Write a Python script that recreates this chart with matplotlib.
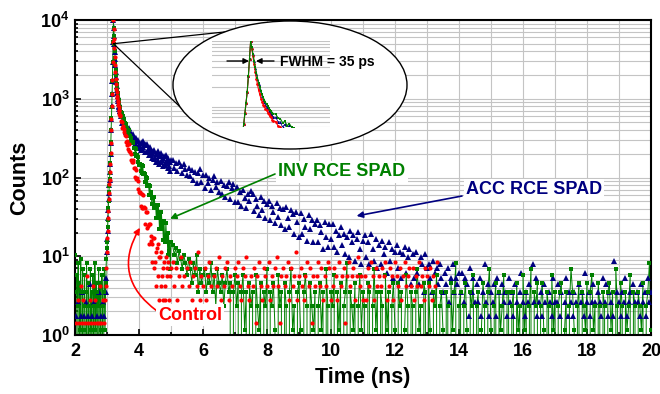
import numpy as np
import matplotlib
matplotlib.use("Agg")
import matplotlib.pyplot as plt
from matplotlib.patches import Ellipse
from matplotlib.ticker import MultipleLocator, LogLocator, NullFormatter

plt.rcParams['font.family'] = ['Liberation Sans', 'DejaVu Sans']
plt.rcParams['font.weight'] = 'bold'
plt.rcParams['mathtext.fontset'] = 'custom'
plt.rcParams['mathtext.rm'] = 'Liberation Sans:bold'
plt.rcParams['mathtext.it'] = 'Liberation Sans:bold'
plt.rcParams['mathtext.bf'] = 'Liberation Sans:bold'

# time bins (ns): coarse before the pulse, fine over the peak, coarser in the tail
t_pre = np.round(2.00 + 0.02 * np.arange(50), 3)
t_peak = np.round(3.00 + 0.01 * np.arange(41), 3)
t_decay = np.round(3.42 + 0.02 * np.arange(80), 3)
t_tail = np.round(5.05 + 0.05 * np.arange(300), 3)
time_ns = np.concatenate([t_pre, t_peak, t_decay, t_tail])

# factor that normalises each histogram to a 1e4 peak
norm_ctrl = 1.41
norm_inv = 1.16
norm_acc = 0.88

# ---- Control (red) ----
ctrl_pre = [0,1,0,0,2,0,1,0,0,3, 0,1,0,2,0,0,1,0,4,0, 1,0,0,2,0,1,0,0,3,1,
            0,0,2,0,1,0,0,1,0,3, 0,1,0,0,2,1,0,2,3,5]
ctrl_peak = [8,12,15,22,27,38,45,58,66,83,
             104,144,197,287,394,571,812,1210,2051,3765,7092,
             5384,4120,3115,2418,1909,1566,1270,1104,951,856,
             774,728,669,636,584,557,513,494,456,437]
ctrl_decay = [428,367,359,302,324,270,295,248,242,199, 183,204,165,188,153,151,120,140,111,113,
              120,94,95,72,89,68,69,50,64,46, 45,47,31,44,29,42,29,30,18,29,
              26,16,26,17,18,10,18,11,13,6, 10,12,5,12,6,8,3,9,4,10,
              7,2,7,3,8,4,5,2,6,3, 2,7,4,5,1,6,2,4,0,5]
ctrl_tail = [6,3,5,2,4,7,3,4,1,5, 3,6,2,4,5,3,8,2,4,3, 5,2,4,6,3,1,4,5,3,7,
             2,4,3,5,6,2,4,3,0,5, 4,6,3,2,5,4,7,3,2,4, 3,5,1,4,6,3,2,5,4,3,
             6,2,4,3,5,7,3,1,4,5, 3,4,6,2,5,3,4,8,2,4, 5,3,2,4,6,3,5,1,4,3,
             4,6,3,5,2,4,3,6,5,2, 3,5,4,2,6,3,4,5,1,4, 6,3,4,5,2,4,7,3,4,2,
             4,2,5,3,6,4,2,5,3,4, 3,5,4,6,2,3,5,4,2,6, 4,3,5,2,4,6,3,4,5,3,
             5,2,4,3,6,3,4,2,5,4, 3,5,2,4,3,6]

# ---- INV RCE SPAD (green) ----
inv_pre = [9,3,0,5,2,7,0,4,1,8, 0,3,6,0,2,5,1,0,7,3, 0,4,2,0,6,1,3,0,5,2,
           0,7,1,4,0,3,2,6,0,4, 1,0,5,2,0,3,6,1,4,8]
inv_peak = [11,13,20,25,35,44,57,68,83,98,
            131,170,243,342,486,687,995,1461,2506,4562,8621,
            6890,5440,4302,3455,2838,2377,1978,1712,1494,1341,
            1201,1108,1012,953,883,840,788,755,711,685]
inv_decay = [673,590,576,502,524,453,483,425,417,361, 340,367,314,347,297,294,250,275,233,236,
             245,206,206,171,196,163,166,134,157,126, 125,128,103,123,98,119,95,98,76,95,
             88,67,86,67,69,52,68,52,56,40, 48,49,35,49,35,39,26,38,26,39,
             30,19,31,19,31,21,23,14,24,15, 13,23,14,16,9,17,10,13,6,13]
inv_tail = [12,9,11,7,10,8,6,9,7,5, 8,6,4,7,5,9,3,6,4,5, 6,3,5,4,7,3,5,2,6,4,
            3,5,2,4,6,3,4,0,3,5, 2,4,0,3,5,1,3,0,4,2, 3,0,5,2,1,4,0,3,2,6,
            0,3,2,4,1,0,5,2,3,0, 4,2,0,3,6,1,2,0,3,4, 1,0,3,5,2,0,4,2,1,3,
            0,2,4,1,3,0,6,2,0,3, 2,5,0,3,1,4,0,2,3,7, 0,3,2,1,4,0,2,5,1,3,
            2,0,4,3,0,2,6,1,3,0, 3,2,0,5,1,3,0,2,4,1, 0,4,2,3,0,1,5,2,0,3,
            2,0,3,6,1,2,0,4,3,0, 4,1,0,3,2,5,0,2,3,1, 0,3,2,0,4,1,3,7,0,2,
            3,0,2,4,1,0,3,2,5,0, 2,3,0,1,4,2,0,3,6,1, 0,2,4,0,3,1,2,5,0,3,
            3,0,2,3,0,4,1,2,0,5, 1,3,0,2,6,0,3,2,4,0, 2,4,1,0,3,2,0,5,1,3,
            0,2,3,4,0,1,3,0,2,6, 3,1,0,2,4,0,3,2,1,4, 0,3,5,1,2,0,4,2,0,3,
            2,0,3,4,1,3,0,6,2,0, 4,2,0,3,1,2,5,0,3,2, 0,3,2,1,4,0,2,3,7,1]

# ---- ACC RCE SPAD (navy) ----
acc_pre = [1,0,2,0,0,3,1,0,0,2, 0,4,0,1,2,0,0,3,0,1, 0,2,0,0,5,1,0,2,0,0,
           3,0,1,0,2,0,0,4,1,0, 2,0,0,3,1,0,2,0,4,6]
acc_peak = [13,19,24,35,44,60,73,92,106,133,
            168,229,315,458,633,912,1303,1937,3290,6029,11364,
            8970,7052,5560,4440,3630,3018,2494,2140,1858,1653,
            1472,1345,1222,1140,1052,993,927,885,830,799]
acc_decay = [801,679,678,566,626,527,605,510,515,432, 412,479,401,478,403,416,349,419,354,374,
             407,344,357,299,365,307,328,273,337,278, 287,308,254,317,263,332,278,293,241,305,
             292,241,306,255,269,218,279,229,250,200, 230,244,196,254,208,225,181,235,187,249,
             212,170,222,177,234,189,203,161,214,173, 163,217,175,189,150,201,160,178,139,189]
acc_tail = [190,150,172,139,181,160,131,170,145,124, 152,118,141,105,133,98,128,147,100,121,
            84,124,96,112,78,107,120,85,101,74, 104,70,92,65,88,101,60,83,94,56,
            86,55,75,50,80,63,47,71,58,76, 70,43,61,50,38,65,44,57,35,52,
            58,33,49,41,30,54,36,47,28,45, 25,48,35,27,44,39,22,42,31,20,
            40,22,34,27,18,38,25,33,17,29, 33,17,28,23,14,31,20,15,29,19,
            29,15,24,13,21,27,16,22,12,20, 11,24,17,21,10,19,23,14,9,18,
            21,11,17,9,22,14,10,19,8,16, 9,18,12,15,7,17,10,14,6,13,
            16,8,13,6,12,15,7,11,14,5, 12,6,13,7,5,11,9,4,12,8,
            9,6,4,10,7,8,5,9,6,4, 7,5,8,3,6,9,4,6,5,7,
            4,7,3,6,5,2,8,4,6,3, 5,3,6,2,4,9,3,5,2,4,
            3,5,2,6,4,1,5,3,4,2, 6,3,4,2,5,3,1,4,7,3,
            2,4,3,5,1,9,3,6,2,3, 4,2,5,3,0,4,3,2,6,3,
            3,5,2,4,1,3,6,2,4,3, 2,4,3,1,5,3,4,2,7,3,
            4,2,3,5,3,1,4,3,2,6, 3,5,2,4,3,2,10,1,4,3,
            2,4,3,6,2,3,4,1,5,3, 4,3,2,5,3,4,2,6,3,4]

ctrl = np.array(ctrl_pre + ctrl_peak + ctrl_decay + ctrl_tail) * norm_ctrl
inv = np.array(inv_pre + inv_peak + inv_decay + inv_tail) * norm_inv
acc = np.array(acc_pre + acc_peak + acc_decay + acc_tail) * norm_acc
t_ctrl = time_ns[:len(ctrl)]
t_inv = time_ns[:len(inv)]
t_acc = time_ns[:len(acc)]

RED = '#ff0000'
GREEN = '#008000'
NAVY = '#000080'

fig = plt.figure(figsize=(6.6, 3.94), dpi=100)
ax = fig.add_axes([75/660, 59/394, 576/660, 315/394])
ax.set_yscale('log')

ax.plot(t_inv, inv, color=GREEN, lw=0.7, zorder=2)
ax.plot(t_acc, acc, ls='none', marker='^', ms=3.8, color=NAVY, mew=0, zorder=3)
ax.plot(t_inv, inv, ls='none', marker='s', ms=3.0, color=GREEN, mew=0, zorder=4)
ax.plot(t_ctrl, ctrl, ls='none', marker='o', ms=3.0, color=RED, mew=0, zorder=5)

ax.set_xlim(2, 20)
ax.set_ylim(1, 1e4)
ax.xaxis.set_major_locator(MultipleLocator(2))
ax.xaxis.set_minor_locator(MultipleLocator(1))
ax.yaxis.set_minor_locator(LogLocator(base=10, subs=np.arange(2, 10)))
ax.yaxis.set_minor_formatter(NullFormatter())
ax.set_yticks([1, 10, 100, 1000, 10000])
ax.set_yticklabels([r'$10^{%d}$' % e for e in range(5)])
ax.grid(True, which='both', color='#c4c4c4', lw=0.8, zorder=0)
ax.set_axisbelow(True)
ax.tick_params(which='both', direction='in', top=False, right=False, width=1.2)
ax.tick_params(which='major', length=4, labelsize=13, pad=6)
ax.tick_params(which='minor', length=2.5)
ax.tick_params(axis='y', which='major', pad=4)
for lab in ax.get_xticklabels():
    lab.set_fontweight('bold')
for sp in ax.spines.values():
    sp.set_linewidth(1.5)

ax.set_xlabel('Time (ns)', fontsize=15.5, fontweight='bold')
ax.set_ylabel('Counts', fontsize=15.5, fontweight='bold')
ax.xaxis.set_label_coords(0.5, -0.1)
ax.yaxis.set_label_coords(-0.078, 0.5)

# zoom ellipse and the two guide lines from the peak
def afrac(px, py):
    return ((px - 75) / 576, (335 - py) / 315)

for end in [afrac(300, 24), afrac(195, 121)]:
    ax.annotate('', xy=(3.2, 5000), xycoords='data', xytext=end, textcoords='axes fraction',
                arrowprops=dict(arrowstyle='-', color='black', lw=0.9, shrinkA=0, shrinkB=0),
                zorder=6)
ell = Ellipse(afrac(290, 85), 234 / 576, 128 / 315, transform=ax.transAxes,
              facecolor='white', edgecolor='black', lw=1.0, zorder=7)
ax.add_patch(ell)

# labels with arrows
txt_kw = dict(transform=ax.transAxes, ha='center', va='center', fontsize=13, fontweight='bold',
              zorder=9, bbox=dict(facecolor='white', edgecolor='none', pad=1.5))
ax.text(*afrac(342, 172), 'INV RCE SPAD', color=GREEN, **txt_kw)
ax.text(*afrac(534, 190), 'ACC RCE SPAD', color=NAVY, **txt_kw)
ax.text(*afrac(190, 315), 'Control', color=RED, **txt_kw)

ax.annotate('', xy=(4.97, 30), xycoords='data', xytext=afrac(275, 174), textcoords='axes fraction',
            arrowprops=dict(arrowstyle='-|>', color=GREEN, lw=1.2, mutation_scale=9,
                            shrinkA=0, shrinkB=0), zorder=8)
ax.annotate('', xy=(10.8, 32.5), xycoords='data', xytext=afrac(462, 196), textcoords='axes fraction',
            arrowprops=dict(arrowstyle='-|>', color=NAVY, lw=1.2, mutation_scale=9,
                            shrinkA=0, shrinkB=0), zorder=8)
ax.annotate('', xy=(4.03, 23), xycoords='data', xytext=afrac(157, 311), textcoords='axes fraction',
            arrowprops=dict(arrowstyle='-|>', color=RED, lw=1.2, mutation_scale=9,
                            shrinkA=0, shrinkB=0, connectionstyle='arc3,rad=-0.45'), zorder=8)

# inset: peak region on a stretched time axis
axi = fig.add_axes([212/660, (394 - 127)/394, 118/660, (127 - 40.7)/394])
axi.set_facecolor('none')
axi.set_yscale('log')
axi.plot(t_acc, acc, color=NAVY, lw=0.6, marker='^', ms=2.2, mew=0, zorder=3)
axi.plot(t_ctrl, ctrl, color=RED, lw=0.8, marker='o', ms=2.0, mew=0, zorder=4)
axi.plot(t_inv, inv, color=GREEN, lw=0.8, marker='s', ms=2.0, mew=0, zorder=5)
axi.set_xlim(2.861, 3.896)
axi.set_ylim(500, 10000)
axi.yaxis.set_minor_locator(LogLocator(base=10, subs=np.arange(2, 10)))
axi.grid(True, axis='y', which='both', color='#c4c4c4', lw=0.8, zorder=0)
axi.set_axisbelow(True)
axi.tick_params(which='both', length=0, labelleft=False, labelbottom=False)
axi.xaxis.set_major_locator(plt.NullLocator())
for sp in axi.spines.values():
    sp.set_visible(False)

def ffrac(px, py):
    return (px / 660, 1 - py / 394)

axi.annotate('', xy=ffrac(249, 61), xycoords='figure fraction', xytext=ffrac(227, 61),
             textcoords='figure fraction',
             arrowprops=dict(arrowstyle='-|>', color='black', lw=1.0, mutation_scale=8,
                             shrinkA=0, shrinkB=0))
axi.annotate('', xy=ffrac(256, 61), xycoords='figure fraction', xytext=ffrac(274, 61),
             textcoords='figure fraction',
             arrowprops=dict(arrowstyle='-|>', color='black', lw=1.0, mutation_scale=8,
                             shrinkA=0, shrinkB=0))
fig.text(*ffrac(280, 62), 'FWHM = 35 ps', ha='left', va='center', fontsize=10, fontweight='bold')

fig.savefig('out.png', dpi=100)
